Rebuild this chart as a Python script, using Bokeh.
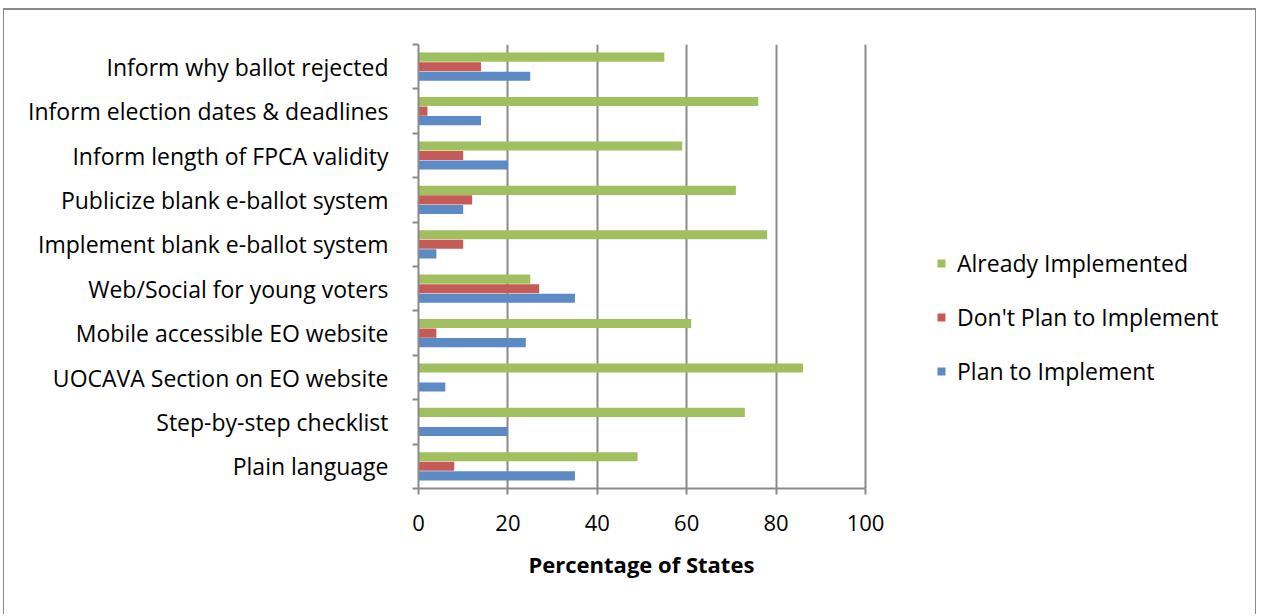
from bokeh.plotting import figure
from bokeh.models import FixedTicker, Legend, LegendItem, ColumnDataSource, Range1d, Title
from bokeh.embed import file_html
from bokeh.resources import INLINE

categories = ["Plain language", "Step-by-step checklist", "UOCAVA Section on EO website",
              "Mobile accessible EO website", "Web/Social for young voters",
              "Implement blank e-ballot system", "Publicize blank e-ballot system",
              "Inform length of FPCA validity", "Inform election dates & deadlines",
              "Inform why ballot rejected"]
already = [49, 73, 86, 61, 25, 78, 71, 59, 76, 55]
dont_plan = [8, 0, 0, 4, 27, 10, 12, 10, 2, 14]
plan = [35, 20, 6, 24, 35, 4, 10, 20, 14, 25]
x_ticks = [0, 20, 40, 60, 80, 100]
x_title = "Percentage of States"
series_names = ["Already Implemented", "Don't Plan to Implement", "Plan to Implement"]
colors = ["#A0BF5E", "#C65A56", "#5B8AC5"]

FONT = "Open Sans"
FS = "22px"
GRAY = "#8a8a8a"

n = len(categories)
centers = [i + 0.5 for i in range(n)]

W, H = 1253, 606
LEFT, TOP, BOTTOM = 414, 34, 128
AXIS_PX = 447  # pixel length of the 0..100 axis
x_end = x_ticks[-1] * (W - LEFT) / AXIS_PX

p = figure(width=W, height=H, output_backend="svg", toolbar_location=None,
           x_range=Range1d(0, x_end), y_range=Range1d(0, n),
           min_border_left=LEFT, min_border_right=0, min_border_top=TOP, min_border_bottom=BOTTOM)
p.margin = (8, 0, 0, 3)
p.styles = {"border-top": "2px solid #8a8a8a", "border-left": "1px solid #8a8a8a",
            "border-right": "1px solid #8a8a8a"}
p.outline_line_color = None
p.background_fill_color = "white"

offsets = [0.215, 0.0, -0.215]
renderers = []
for vals, off, col in zip([already, dont_plan, plan], offsets, colors):
    src = ColumnDataSource(dict(y=[c + off for c in centers], right=vals))
    r = p.hbar(y="y", left=0, right="right", height=0.205, source=src,
               fill_color=col, line_color=None)
    renderers.append(r)

# x axis
p.xaxis.ticker = FixedTicker(ticks=x_ticks)
p.xaxis.bounds = (x_ticks[0], x_ticks[-1])
p.xgrid.ticker = FixedTicker(ticks=x_ticks[1:])
p.xgrid.grid_line_color = GRAY
p.xgrid.grid_line_width = 2
p.ygrid.grid_line_color = None
p.xaxis.axis_line_color = GRAY
p.xaxis.axis_line_width = 2
p.xaxis.major_tick_line_color = GRAY
p.xaxis.major_tick_line_width = 2
p.xaxis.major_tick_out = 6
p.xaxis.major_tick_in = 0
p.xaxis.minor_tick_line_color = None
p.xaxis.major_label_text_font = FONT
p.xaxis.major_label_text_font_size = FS
p.xaxis.major_label_text_color = "black"
p.xaxis.major_label_standoff = 20

# axis title placed under the 0..100 axis (frame is wider than the axis)
t = Title(text=x_title, align="left", offset=110, standoff=27,
          text_font=FONT, text_font_style="bold", text_font_size=FS, text_color="black")
p.add_layout(t, "below")

# y axis: labels at centers, ticks at boundaries
p.yaxis.ticker = FixedTicker(ticks=centers, minor_ticks=list(range(n + 1)))
p.yaxis.major_label_overrides = {c: lab for c, lab in zip(centers, categories)}
p.yaxis.axis_line_color = GRAY
p.yaxis.axis_line_width = 2
p.yaxis.major_tick_line_color = None
p.yaxis.major_tick_out = 0
p.yaxis.major_tick_in = 0
p.yaxis.minor_tick_line_color = GRAY
p.yaxis.minor_tick_line_width = 2
p.yaxis.minor_tick_out = 6
p.yaxis.minor_tick_in = 0
p.yaxis.major_label_text_font = FONT
p.yaxis.major_label_text_font_size = "23px"
p.yaxis.major_label_text_color = "black"
p.yaxis.major_label_standoff = 24

legend = Legend(items=[LegendItem(label=nm, renderers=[r]) for nm, r in zip(series_names, renderers)],
                location=(518, 101), orientation="vertical",
                label_text_font=FONT, label_text_font_size="23px", label_text_color="black",
                glyph_width=10, glyph_height=10, label_standoff=11,
                label_height=26, spacing=22, padding=0, margin=0,
                border_line_color=None, background_fill_alpha=0)
p.add_layout(legend, "center")

open("out.html", "w").write(file_html(p, INLINE))
